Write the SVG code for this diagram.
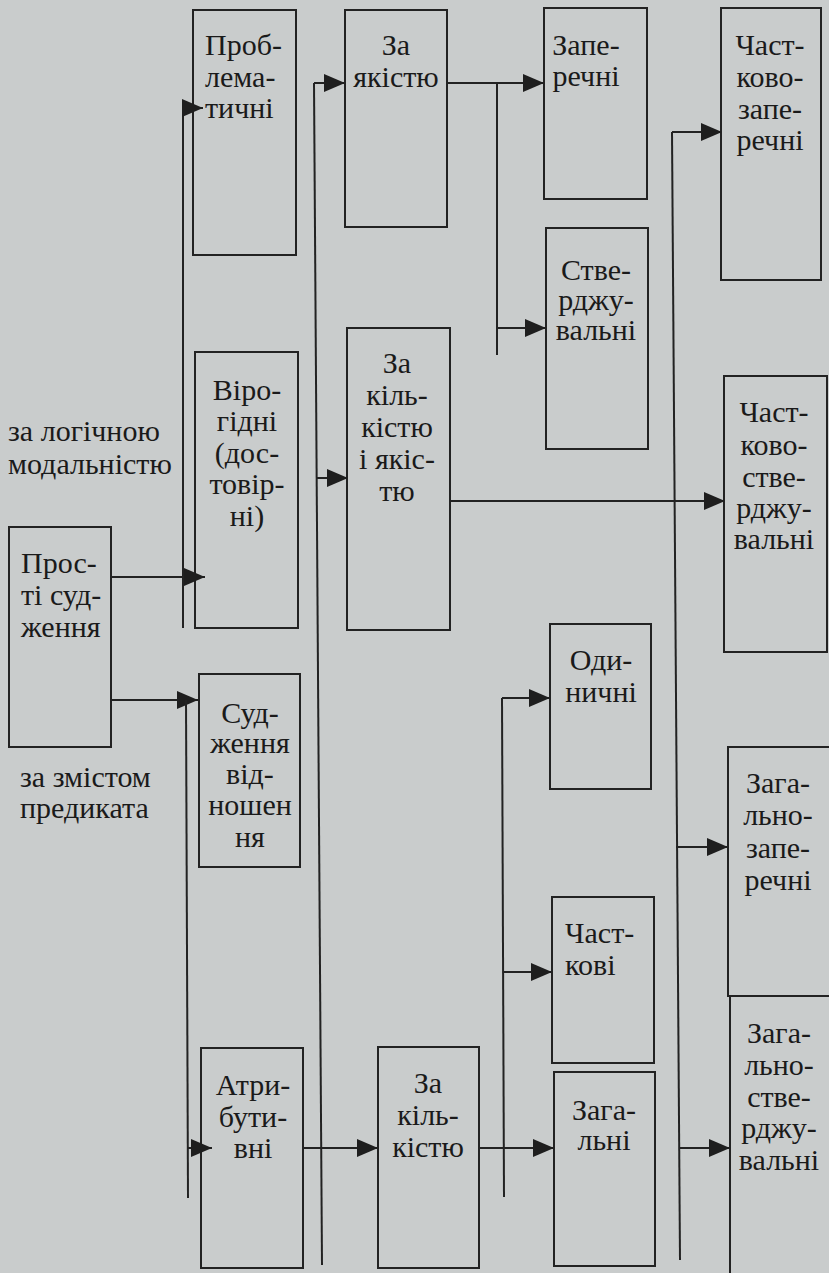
<svg xmlns="http://www.w3.org/2000/svg" width="829" height="1273" viewBox="0 0 829 1273">
<style>
.bg{fill:#c9cccc}
.box{fill:none;stroke:#222;stroke-width:2}
.ln{fill:none;stroke:#222;stroke-width:2}
.t{font-family:'Liberation Serif','DejaVu Serif',serif;font-size:30px;fill:#1a1a1a}
.m{text-anchor:middle}
</style>
<defs>
<marker id="ah" markerUnits="userSpaceOnUse" markerWidth="21" markerHeight="18" refX="21" refY="9" orient="auto"><path d="M0,0 L21,9 L0,18 z" fill="#1e1e1e"/></marker>
</defs>
<rect class="bg" x="0" y="0" width="829" height="1273"/>

<g id="label-modal">
<text class="t" x="8" y="441">за логічною</text>
<text class="t" x="8" y="474">модальністю</text>
</g>
<g id="label-pred">
<text class="t" x="20" y="787">за змістом</text>
<text class="t" x="20" y="818">предиката</text>
</g>

<g id="n-prosti">
<rect class="box" x="9" y="527" width="102" height="220"/>
<text class="t" x="21" y="573">Прос-</text>
<text class="t" x="21" y="605">ті суд-</text>
<text class="t" x="21" y="637">ження</text>
</g>

<g id="n-problem">
<rect class="box" x="193" y="10" width="103" height="245"/>
<text class="t" x="205" y="55">Проб-</text>
<text class="t" x="205" y="87">лема-</text>
<text class="t" x="205" y="118">тичні</text>
</g>

<g id="n-virog">
<rect class="box" x="195" y="352" width="103" height="276"/>
<text class="t m" x="247" y="400">Віро-</text>
<text class="t m" x="247" y="431">гідні</text>
<text class="t m" x="247" y="463">(дос-</text>
<text class="t m" x="247" y="494">товір-</text>
<text class="t m" x="247" y="526">ні)</text>
</g>

<g id="n-vidnosh">
<rect class="box" x="199" y="674" width="101" height="193"/>
<text class="t m" x="250" y="723">Суд-</text>
<text class="t m" x="250" y="753">ження</text>
<text class="t m" x="250" y="784">від-</text>
<text class="t m" x="250" y="815">ношен</text>
<text class="t m" x="250" y="847">ня</text>
</g>

<g id="n-atryb">
<rect class="box" x="201" y="1048" width="102" height="220"/>
<text class="t m" x="253" y="1095">Атри-</text>
<text class="t m" x="253" y="1127">бути-</text>
<text class="t m" x="253" y="1158">вні</text>
</g>

<g id="n-yakist">
<rect class="box" x="345" y="10" width="102" height="217"/>
<text class="t m" x="396" y="55">За</text>
<text class="t m" x="396" y="87">якістю</text>
</g>

<g id="n-kilyak">
<rect class="box" x="347" y="328" width="103" height="302"/>
<text class="t m" x="397" y="373">За</text>
<text class="t m" x="397" y="405">кіль-</text>
<text class="t m" x="397" y="437">кістю</text>
<text class="t m" x="397" y="469">і якіс-</text>
<text class="t m" x="397" y="501">тю</text>
</g>

<g id="n-kilkist">
<rect class="box" x="378" y="1047" width="101" height="221"/>
<text class="t m" x="428" y="1093">За</text>
<text class="t m" x="428" y="1125">кіль-</text>
<text class="t m" x="428" y="1157">кістю</text>
</g>

<g id="n-zaperechni">
<rect class="box" x="544" y="8" width="103" height="191"/>
<text class="t m" x="586" y="55">Запе-</text>
<text class="t m" x="586" y="86">речні</text>
</g>

<g id="n-stverdzh">
<rect class="box" x="546" y="228" width="102" height="221"/>
<text class="t m" x="596" y="280">Стве-</text>
<text class="t m" x="596" y="310">рджу-</text>
<text class="t m" x="596" y="340">вальні</text>
</g>

<g id="n-odynychni">
<rect class="box" x="550" y="624" width="101" height="165"/>
<text class="t m" x="601" y="670">Оди-</text>
<text class="t m" x="601" y="702">ничні</text>
</g>

<g id="n-chastkovi">
<rect class="box" x="552" y="897" width="102" height="166"/>
<text class="t" x="565" y="943">Част-</text>
<text class="t" x="565" y="975">кові</text>
</g>

<g id="n-zagalni">
<rect class="box" x="554" y="1072" width="101" height="194"/>
<text class="t m" x="604" y="1120">Зага-</text>
<text class="t m" x="604" y="1150">льні</text>
</g>

<g id="n-chzap">
<rect class="box" x="721" y="8" width="100" height="272"/>
<text class="t m" x="770" y="55">Част-</text>
<text class="t m" x="770" y="87">ково-</text>
<text class="t m" x="770" y="119">запе-</text>
<text class="t m" x="770" y="150">речні</text>
</g>

<g id="n-chstv">
<rect class="box" x="724" y="376" width="103" height="276"/>
<text class="t m" x="774" y="422">Част-</text>
<text class="t m" x="774" y="455">ково-</text>
<text class="t m" x="774" y="487">стве-</text>
<text class="t m" x="774" y="518">рджу-</text>
<text class="t m" x="774" y="549">вальні</text>
</g>

<g id="n-zagzap">
<rect class="box" x="728" y="747" width="110" height="249"/>
<text class="t m" x="778" y="793">Зага-</text>
<text class="t m" x="778" y="825">льно-</text>
<text class="t m" x="778" y="858">запе-</text>
<text class="t m" x="778" y="890">речні</text>
</g>

<g id="n-zagstv">
<rect class="box" x="730" y="996" width="110" height="290"/>
<text class="t m" x="779" y="1043">Зага-</text>
<text class="t m" x="779" y="1075">льно-</text>
<text class="t m" x="779" y="1107">стве-</text>
<text class="t m" x="779" y="1138">рджу-</text>
<text class="t m" x="779" y="1170">вальні</text>
</g>

<g id="connectors">
<path class="ln" d="M111,577 H205" marker-end="url(#ah)"/>
<path class="ln" d="M183,628 V108 H203" marker-end="url(#ah)"/>
<path class="ln" d="M111,700 H198" marker-end="url(#ah)"/>
<path class="ln" d="M186,700 L188,1198"/>
<path class="ln" d="M188,1148 H212" marker-end="url(#ah)"/>
<path class="ln" d="M314,83 L322,1265"/>
<path class="ln" d="M314,83 H345" marker-end="url(#ah)"/>
<path class="ln" d="M317,478 H348" marker-end="url(#ah)"/>
<path class="ln" d="M303,1148 H378" marker-end="url(#ah)"/>
<path class="ln" d="M447,83 H544" marker-end="url(#ah)"/>
<path class="ln" d="M497,83 V355"/>
<path class="ln" d="M497,328 H546" marker-end="url(#ah)"/>
<path class="ln" d="M672,132 L680,1260"/>
<path class="ln" d="M672,132 H722" marker-end="url(#ah)"/>
<path class="ln" d="M450,501 H725" marker-end="url(#ah)"/>
<path class="ln" d="M676,847 H728" marker-end="url(#ah)"/>
<path class="ln" d="M680,1148 H730" marker-end="url(#ah)"/>
<path class="ln" d="M502,698 L504,1197"/>
<path class="ln" d="M502,698 H550" marker-end="url(#ah)"/>
<path class="ln" d="M504,972 H552" marker-end="url(#ah)"/>
<path class="ln" d="M479,1148 H554" marker-end="url(#ah)"/>
</g>
</svg>
